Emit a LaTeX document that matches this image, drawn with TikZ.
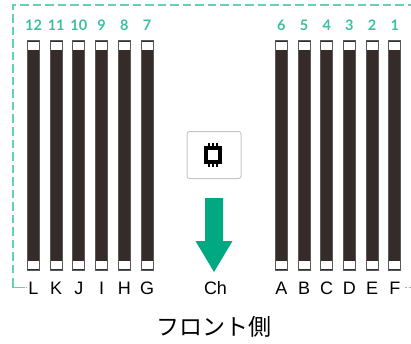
\documentclass[tikz,border=0pt]{standalone}
\usepackage{fontspec}
\setmainfont{Liberation Sans}
\newfontfamily\numfont{Lato}
\newfontfamily\cjkfont{Noto Sans CJK JP}
\usepackage{tikz}
\definecolor{hpegreen}{HTML}{01A982}
\definecolor{dashgreen}{HTML}{62D2B4}
\definecolor{numgreen}{HTML}{3DBF9F}
\definecolor{slotdark}{HTML}{352C29}
\tikzset{
	slot/.style   = {draw=black!65, line width=1pt, fill=slotdark, rectangle, inner sep=0pt, minimum width=12pt, minimum height=229pt, node distance=22.7pt,
		path picture={\fill[white] ([xshift=-6pt,yshift=-1pt]path picture bounding box.north) rectangle ([xshift=6pt,yshift=-9pt]path picture bounding box.north);
			\fill[white] ([xshift=-6pt,yshift=1pt]path picture bounding box.south) rectangle ([xshift=6pt,yshift=9pt]path picture bounding box.south);}},
	number/.style = {text=numgreen, font=\fontsize{14.5}{14.5}\numfont\bfseries, inner sep=0pt, node distance=130.5pt},
	letter/.style = {text=black, font=\fontsize{18}{18}\selectfont, inner sep=0pt, node distance=133pt},
	button/.style = {draw=black!22, line width=1pt, fill=white, rounded corners=2.5pt, minimum width=54pt, minimum height=47pt},
	chip/.style   = {draw=black, line width=3.6pt, fill=white, minimum width=14pt, minimum height=14pt, inner sep=0pt},
	pin/.style    = {draw=black, line width=1.3pt},
	hidden/.style = {coordinate},
	frame/.style  = {draw=dashgreen, line width=1.3pt},
	dots/.style   = {draw=dashgreen, line width=1pt, dash pattern=on 1.5pt off 2.5pt},
}
\begin{document}
\begin{tikzpicture}[x=1pt, y=1pt]
		\useasboundingbox (0,0) rectangle (411,343);
		
		% Draw the left slots
		\draw
		node[slot] at (33.5,187.5) (slotL) {}
		node[slot, right of = slotL] (slotK) {}
		node[slot, right of = slotK] (slotJ) {}
		node[slot, right of = slotJ] (slotI) {}
		node[slot, right of = slotI] (slotH) {}
		node[slot, right of = slotH] (slotG) {};
		
		% Draw the right slots
		\draw
		node[slot] at (281.3,187.5) (slotA) {}
		node[slot, right of = slotA] (slotB) {}
		node[slot, right of = slotB] (slotC) {}
		node[slot, right of = slotC] (slotD) {}
		node[slot, right of = slotD] (slotE) {}
		node[slot, right of = slotE] (slotF) {};
		
		% Numbers over the slots
		\draw
		node[number, above of = slotL] (num12) {12}
		node[number, above of = slotK] (num11) {11}
		node[number, above of = slotJ] (num10) {10}
		node[number, above of = slotI] (num9) {9}
		node[number, above of = slotH] (num8) {8}
		node[number, above of = slotG] (num7) {7}
		node[number, above of = slotA] (num6) {6}
		node[number, above of = slotB] (num5) {5}
		node[number, above of = slotC] (num4) {4}
		node[number, above of = slotD] (num3) {3}
		node[number, above of = slotE] (num2) {2}
		node[number, above of = slotF] (num1) {1};
		
		% Letters under the slots
		\draw
		node[letter, below of = slotL] (letterL) {L}
		node[letter, below of = slotK] (letterK) {K}
		node[letter, below of = slotJ] (letterJ) {J}
		node[letter, below of = slotI] (letterI) {I}
		node[letter, below of = slotH] (letterH) {H}
		node[letter, below of = slotG] (letterG) {G}
		node[letter, below of = slotA] (letterA) {A}
		node[letter, below of = slotB] (letterB) {B}
		node[letter, below of = slotC] (letterC) {C}
		node[letter, below of = slotD] (letterD) {D}
		node[letter, below of = slotE] (letterE) {E}
		node[letter, below of = slotF] (letterF) {F};
		
		% Button with the processor icon
		\draw
		node[button] at (214,188) (button) {}
		node[chip] at (213,188) (chip) {};
		\draw[pin] ([xshift=-4pt]chip.north) -- ++(0,3.5);
		\draw[pin] (chip.north) -- ++(0,3.5);
		\draw[pin] ([xshift=4pt]chip.north) -- ++(0,3.5);
		\draw[pin] ([xshift=-4pt]chip.south) -- ++(0,-3.5);
		\draw[pin] (chip.south) -- ++(0,-3.5);
		\draw[pin] ([xshift=4pt]chip.south) -- ++(0,-3.5);
		
		% Channel arrow and captions
		\fill[hpegreen] (205,145) -- (223,145) -- (223,102) -- (232.5,102) -- (214,71) -- (195.5,102) -- (205,102) -- cycle;
		\draw
		node[letter] at (215.5,55) (channel) {Ch}
		node[text=black, font=\fontsize{23}{23}\cjkfont, inner sep=0pt] at (213.5,16) (caption) {フロント側};
		
		% Dashed frame around the slots
		\draw
		node[hidden] at (24.5,55.5) (framestart) {}
		node[hidden] at (13,55.5) (framecorner) {}
		node[hidden] at (13,65.5) (framebend) {}
		node[hidden] at (13,70) (framedash) {}
		node[hidden] at (13,338) (frametop) {}
		node[hidden] at (411,338) (frameend) {}
		node[hidden] at (405,55.5) (tailstart) {}
		node[hidden] at (411,55.5) (tailend) {}
		node[hidden] at (25.5,55.5) (dotstart) {}
		node[hidden] at (27,55.5) (dotend) {};
		\draw[frame] (framestart) -- (framecorner) -- (framebend);
		\draw[frame, dash pattern=on 8.5pt off 4pt] (framedash) -- (frametop) -- (frameend);
		\draw[dots] (tailstart) -- (tailend);
		\draw[dots] (dotstart) -- (dotend);
	\end{tikzpicture}
\end{document}
